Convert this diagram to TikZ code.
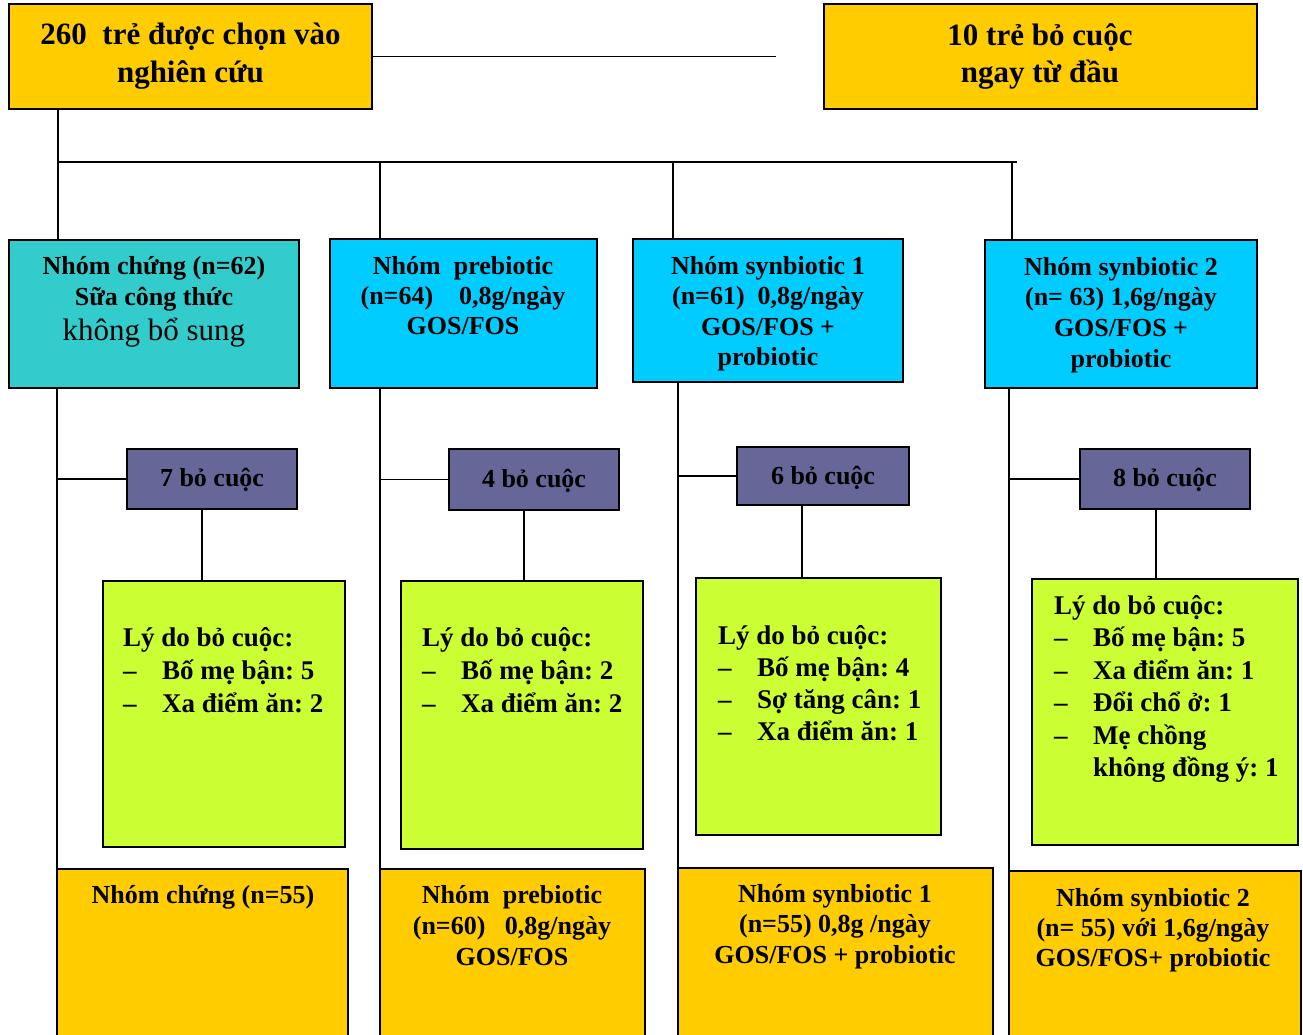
\documentclass[tikz,border=0pt]{standalone}
\usepackage{fontspec}
\setmainfont{Liberation Serif}
\frenchspacing
\definecolor{gold}{HTML}{FFCC00}
\definecolor{tealbox}{HTML}{33CCCC}
\definecolor{cyanbox}{HTML}{00CCFF}
\definecolor{purplebox}{HTML}{666699}
\definecolor{limebox}{HTML}{CCFF33}
\newcommand\ctext[2]{\vtop{\baselineskip=#1\lineskiplimit=-\maxdimen\lineskip=0pt\halign{\hfil##\hfil\cr#2\crcr}}}
\newcommand\ltext[2]{\vtop{\baselineskip=#1\lineskiplimit=-\maxdimen\lineskip=0pt\halign{##\hfil\cr#2\crcr}}}
\newcommand\itm[2]{\hbox to 39pt{#1\hfil}#2}
\tikzset{
  box/.style={draw=black, line width=1.6pt, inner sep=0pt, outer sep=0pt, anchor=north west},
  txt/.style={anchor=base, inner sep=0pt, font=\bfseries\fontsize{26}{31}\selectfont},
  ltxt/.style={anchor=base west, inner sep=0pt, font=\bfseries\fontsize{27}{33}\selectfont},
  conn/.style={line width=1.7pt},
}
\begin{document}
\begin{tikzpicture}[x=1pt,y=-1pt]
\useasboundingbox (0,0) rectangle (1303,1034);
\clip (0,0) rectangle (1303,1034);
% boxes
\node[box, fill=gold, minimum width=363pt, minimum height=105pt] (top) at (9,4) {};
\node[box, fill=gold, minimum width=433pt, minimum height=105pt] (drop) at (824,4) {};
\node[box, fill=tealbox, minimum width=290pt, minimum height=148pt] (g1) at (9,240) {};
\node[box, fill=cyanbox, minimum width=267pt, minimum height=149pt] (g2) at (330,239) {};
\node[box, fill=cyanbox, minimum width=270pt, minimum height=143pt] (g3) at (633,239) {};
\node[box, fill=cyanbox, minimum width=272pt, minimum height=148pt] (g4) at (985,240) {};
\node[box, fill=purplebox, minimum width=170pt, minimum height=60pt] (p1) at (127,449) {};
\node[box, fill=purplebox, minimum width=170pt, minimum height=61pt] (p2) at (449,449) {};
\node[box, fill=purplebox, minimum width=172pt, minimum height=58pt] (p3) at (737,447) {};
\node[box, fill=purplebox, minimum width=170pt, minimum height=60pt] (p4) at (1080,449) {};
\node[box, fill=limebox, minimum width=242pt, minimum height=266pt] (l1) at (103,581) {};
\node[box, fill=limebox, minimum width=242pt, minimum height=268pt] (l2) at (401,581) {};
\node[box, fill=limebox, minimum width=245pt, minimum height=257pt] (l3) at (696,578) {};
\node[box, fill=limebox, minimum width=266pt, minimum height=266pt] (l4) at (1032,579) {};
\node[box, fill=gold, minimum width=291pt, minimum height=185pt] (b1) at (57,869) {};
\node[box, fill=gold, minimum width=265pt, minimum height=185pt] (b2) at (380,869) {};
\node[box, fill=gold, minimum width=315pt, minimum height=186pt] (b3) at (678,868) {};
\node[box, fill=gold, minimum width=292pt, minimum height=183pt] (b4) at (1009,871) {};
% connectors
\coordinate (tr) at (776,56.5);
\coordinate (hl) at (58,162);
\coordinate (hr) at (1017,162);
\coordinate (v2) at (380,162);
\coordinate (v3) at (673,162);
\coordinate (v4) at (1012,162);
\draw[conn] (top.east) -- (tr);
\draw[conn] (hl |- top.south) -- (hl |- g1.north);
\draw[conn] (hl) -- (hr);
\draw[conn] (v2) -- (v2 |- g2.north);
\draw[conn] (v3) -- (v3 |- g3.north);
\draw[conn] (v4) -- (v4 |- g4.north);
\draw[conn] (b1.north west |- g1.south) -- (b1.north west);
\draw[conn] (b2.north west |- g2.south) -- (b2.north west);
\draw[conn] (b3.north west |- g3.south) -- (b3.north west);
\draw[conn] (b4.north west |- g4.south) -- (b4.north west);
\draw[conn] (p1.west -| b1.north west) -- (p1.west);
\draw[conn] (p2.west -| b2.north west) -- (p2.west);
\draw[conn] (p3.west -| b3.north west) -- (p3.west);
\draw[conn] (p4.west -| b4.north west) -- (p4.west);
\draw[conn] ([xshift=75pt]p1.south west) -- ([xshift=75pt]p1.south west |- l1.north);
\draw[conn] ([xshift=75pt]p2.south west) -- ([xshift=75pt]p2.south west |- l2.north);
\draw[conn] ([xshift=65pt]p3.south west) -- ([xshift=65pt]p3.south west |- l3.north);
\draw[conn] ([xshift=76pt]p4.south west) -- ([xshift=76pt]p4.south west |- l4.north);
% texts
\node[txt, font=\bfseries\fontsize{31}{38}\selectfont] (ttop) at (190.5,44) {\ctext{38pt}{260\ \ trẻ được chọn vào\cr nghiên cứu}};
\node[txt, font=\bfseries\fontsize{31}{38}\selectfont] (tdrop) at (1040,45) {\ctext{37pt}{10 trẻ bỏ cuộc\cr ngay từ đầu}};
\node[txt] (tg1) at (154,274) {\ctext{31pt}{Nhóm chứng (n=62)\cr Sữa công thức\cr \lower4pt\hbox{\mdseries\fontsize{31}{31}\selectfont không bổ sung}}};
\node[txt] (tg2) at (463,274) {\ctext{30pt}{Nhóm\ \ prebiotic\cr (n=64)\ \ \ \ 0,8g/ngày\cr GOS/FOS}};
\node[txt] (tg3) at (768,274) {\ctext{30.5pt}{Nhóm synbiotic 1\cr (n=61)\ \ 0,8g/ngày\cr GOS/FOS +\cr probiotic}};
\node[txt] (tg4) at (1121,275) {\ctext{30.7pt}{Nhóm synbiotic 2\cr (n= 63) 1,6g/ngày\cr GOS/FOS +\cr probiotic}};
\node[txt] (tp1) at (212,486) {7 bỏ cuộc};
\node[txt] (tp2) at (534,487) {4 bỏ cuộc};
\node[txt] (tp3) at (823,484) {6 bỏ cuộc};
\node[txt] (tp4) at (1165,486) {8 bỏ cuộc};
\node[ltxt] (tl1) at (123,646) {\ltext{33pt}{Lý do bỏ cuộc:\cr\itm{–}{Bố mẹ bận: 5}\cr\itm{–}{Xa điểm ăn: 2}}};
\node[ltxt] (tl2) at (422,646) {\ltext{33pt}{Lý do bỏ cuộc:\cr\itm{–}{Bố mẹ bận: 2}\cr\itm{–}{Xa điểm ăn: 2}}};
\node[ltxt] (tl3) at (718,644) {\ltext{32.3pt}{Lý do bỏ cuộc:\cr\itm{–}{Bố mẹ bận: 4}\cr\itm{–}{Sợ tăng cân: 1}\cr\itm{–}{Xa điểm ăn: 1}}};
\node[ltxt] (tl4) at (1054,614) {\ltext{32.5pt}{Lý do bỏ cuộc:\cr\itm{–}{Bố mẹ bận: 5}\cr\itm{–}{Xa điểm ăn: 1}\cr\itm{–}{Đổi chổ ở: 1}\cr\itm{–}{Mẹ chồng}\cr\itm{}{không đồng ý: 1}}};
\node[txt] (tb1) at (203,903) {Nhóm chứng (n=55)};
\node[txt] (tb2) at (512,903) {\ctext{31pt}{Nhóm\ \ prebiotic\cr (n=60)\ \ \ 0,8g/ngày\cr GOS/FOS}};
\node[txt] (tb3) at (835,902) {\ctext{30.5pt}{Nhóm synbiotic 1\cr (n=55) 0,8g /ngày\cr GOS/FOS + probiotic}};
\node[txt] (tb4) at (1153,906) {\ctext{30pt}{Nhóm synbiotic 2\cr (n= 55) với 1,6g/ngày\cr GOS/FOS+ probiotic}};
\end{tikzpicture}
\end{document}
